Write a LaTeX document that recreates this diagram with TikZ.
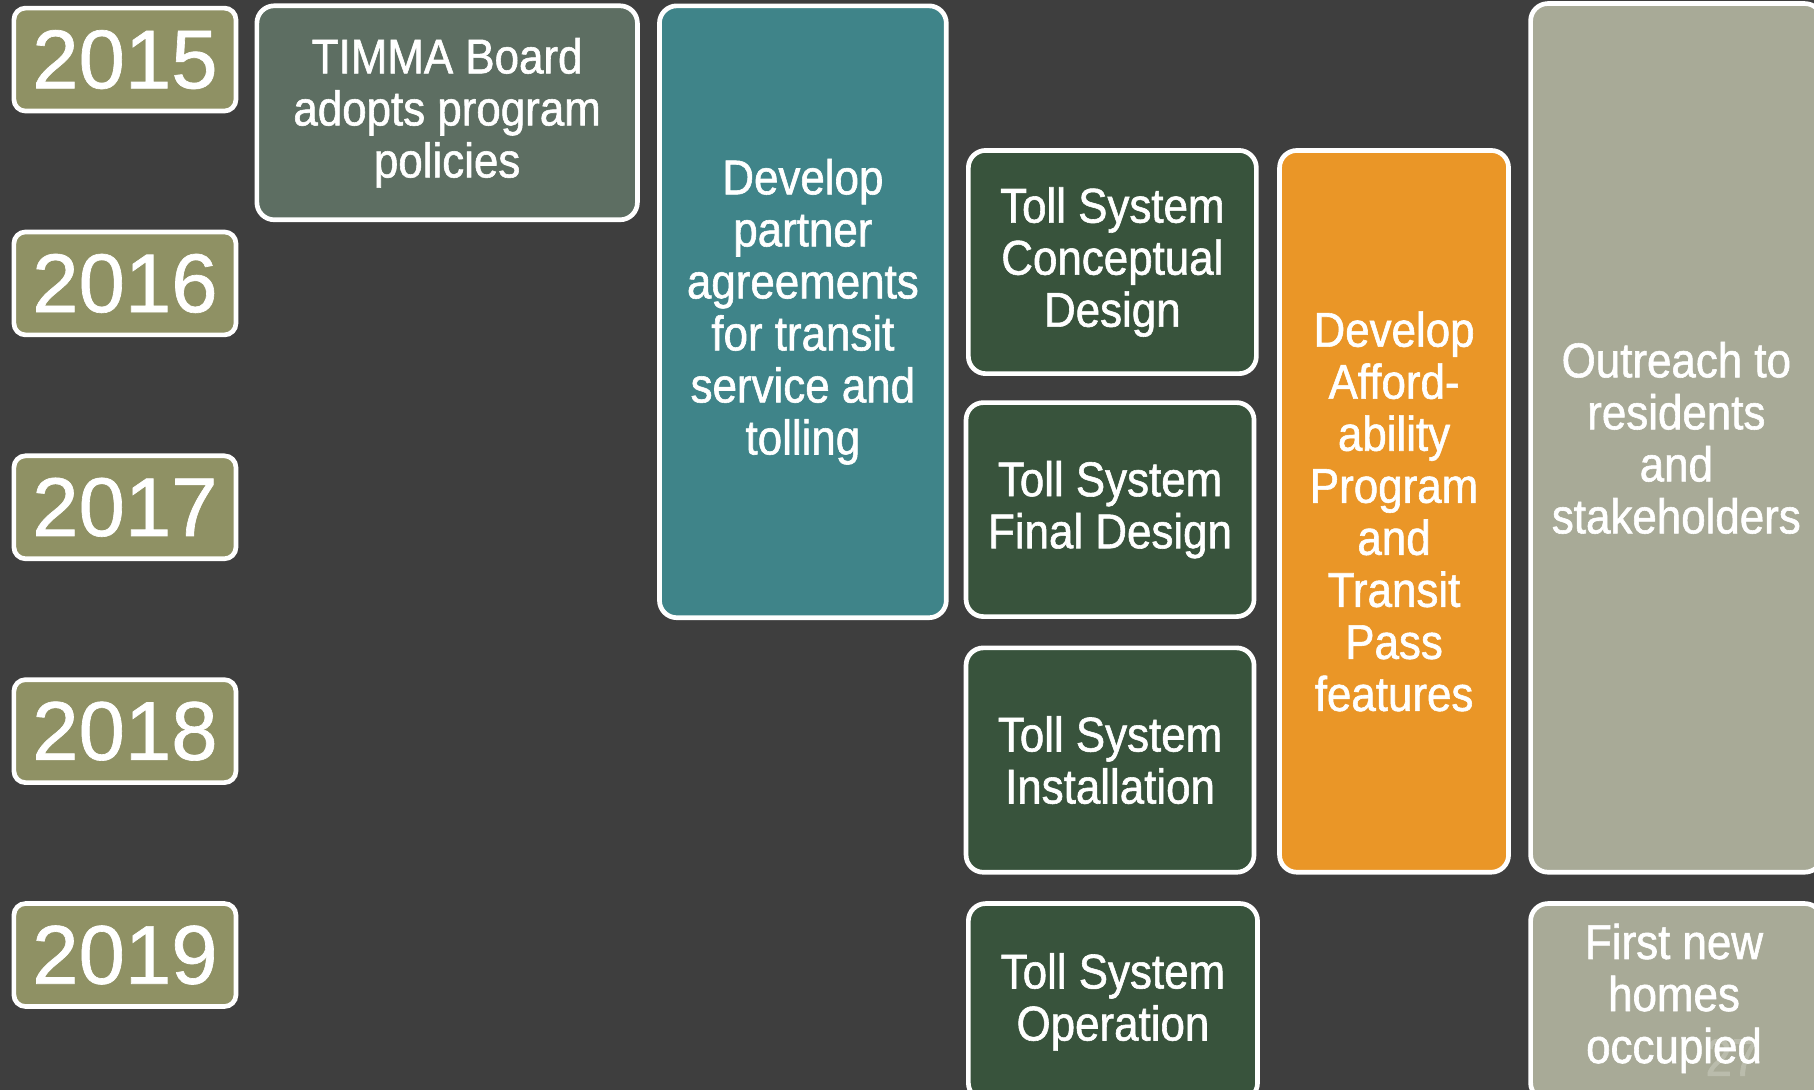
\documentclass[tikz,border=0pt]{standalone}
\usepackage{fontspec}
\setmainfont{Liberation Sans}
\newfontfamily\taskfont[FakeBold=1.2, FakeStretch=0.9]{Liberation Sans}
\newfontfamily\yearfont[FakeBold=0.8]{Liberation Sans}
\definecolor{bg}{RGB}{62,62,62}
\definecolor{yearolive}{RGB}{143,145,100}
\definecolor{boardgreen}{RGB}{93,110,98}
\definecolor{partnerteal}{RGB}{63,132,137}
\definecolor{tollgreen}{RGB}{56,83,60}
\definecolor{affordorange}{RGB}{234,150,39}
\definecolor{outreachgrey}{RGB}{168,170,151}
\definecolor{pagegrey}{RGB}{186,188,172}

\begin{document}
\begin{tikzpicture}[x=0.02cm, y=-0.02cm, every node/.style={
    draw=white,
    line width=2.3pt,
    text=white,
    align=center,
    inner sep=0pt},
    year/.style={fill=yearolive, rounded corners=0.2cm,
      minimum width=3.84cm, minimum height=1.78cm,
      font=\yearfont\fontsize{41}{43}\selectfont},
    task/.style={rounded corners=0.3cm,
      font=\taskfont\fontsize{24}{25.6}\selectfont}]

    \useasboundingbox (0,0) rectangle (1568,942);
    \fill[bg] (0,0) rectangle (1568,942);
    \clip (0,0) rectangle (1568,942);

    % years
    \node[year] (y2015) at (108,51.5) {2015};
    \node[year] (y2016) at (108,245) {2016};
    \node[year] (y2017) at (108,438.5) {2017};
    \node[year] (y2018) at (108,632) {2018};
    \node[year] (y2019) at (108,825.5) {2019};

    \node[task, fill=boardgreen, minimum width=6.58cm, minimum height=3.7cm]
      (board) at (386.5,97.5) {TIMMA Board\\adopts program\\policies};
    \node[task, fill=partnerteal, minimum width=4.96cm, minimum height=10.58cm]
      (partner) at (694,269.5) {Develop\\partner\\agreements\\for transit\\service and\\tolling};

    % toll system column
    \node[task, fill=tollgreen, minimum width=4.98cm, minimum height=3.86cm]
      (concept) at (961.5,226.5) {Toll System\\Conceptual\\Design};
    \node[task, fill=tollgreen, minimum width=4.98cm, minimum height=3.7cm]
      (final) at (959.5,440.5) {Toll System\\Final Design};
    \node[task, fill=tollgreen, minimum width=4.98cm, minimum height=3.88cm]
      (install) at (959.5,657) {Toll System\\Installation};
    \node[task, fill=tollgreen, minimum width=5cm, minimum height=3.4cm]
      (operation) at (962,866) {Toll System\\Operation};

    \node[task, fill=affordorange, minimum width=3.96cm, minimum height=12.48cm]
      (afford) at (1205,442) {Develop\\Afford-\\ability\\Program\\and\\Transit\\Pass\\features};
    \node[task, fill=outreachgrey, minimum width=5.04cm, minimum height=15.02cm]
      (outreach) at (1449,378.5) {Outreach to\\residents\\and\\stakeholders};

    \node[task, fill=outreachgrey, minimum width=5.04cm, minimum height=3.4cm]
      (homesbox) at (1449,866) {};
    \node[draw=none, text=pagegrey, font=\taskfont\fontsize{26}{28}\selectfont]
      (pagenum) at (1497,914) {27};
    \node[task, draw=none] (homes) at (1447,863) {First new\\homes\\occupied};
\end{tikzpicture}
\end{document}
